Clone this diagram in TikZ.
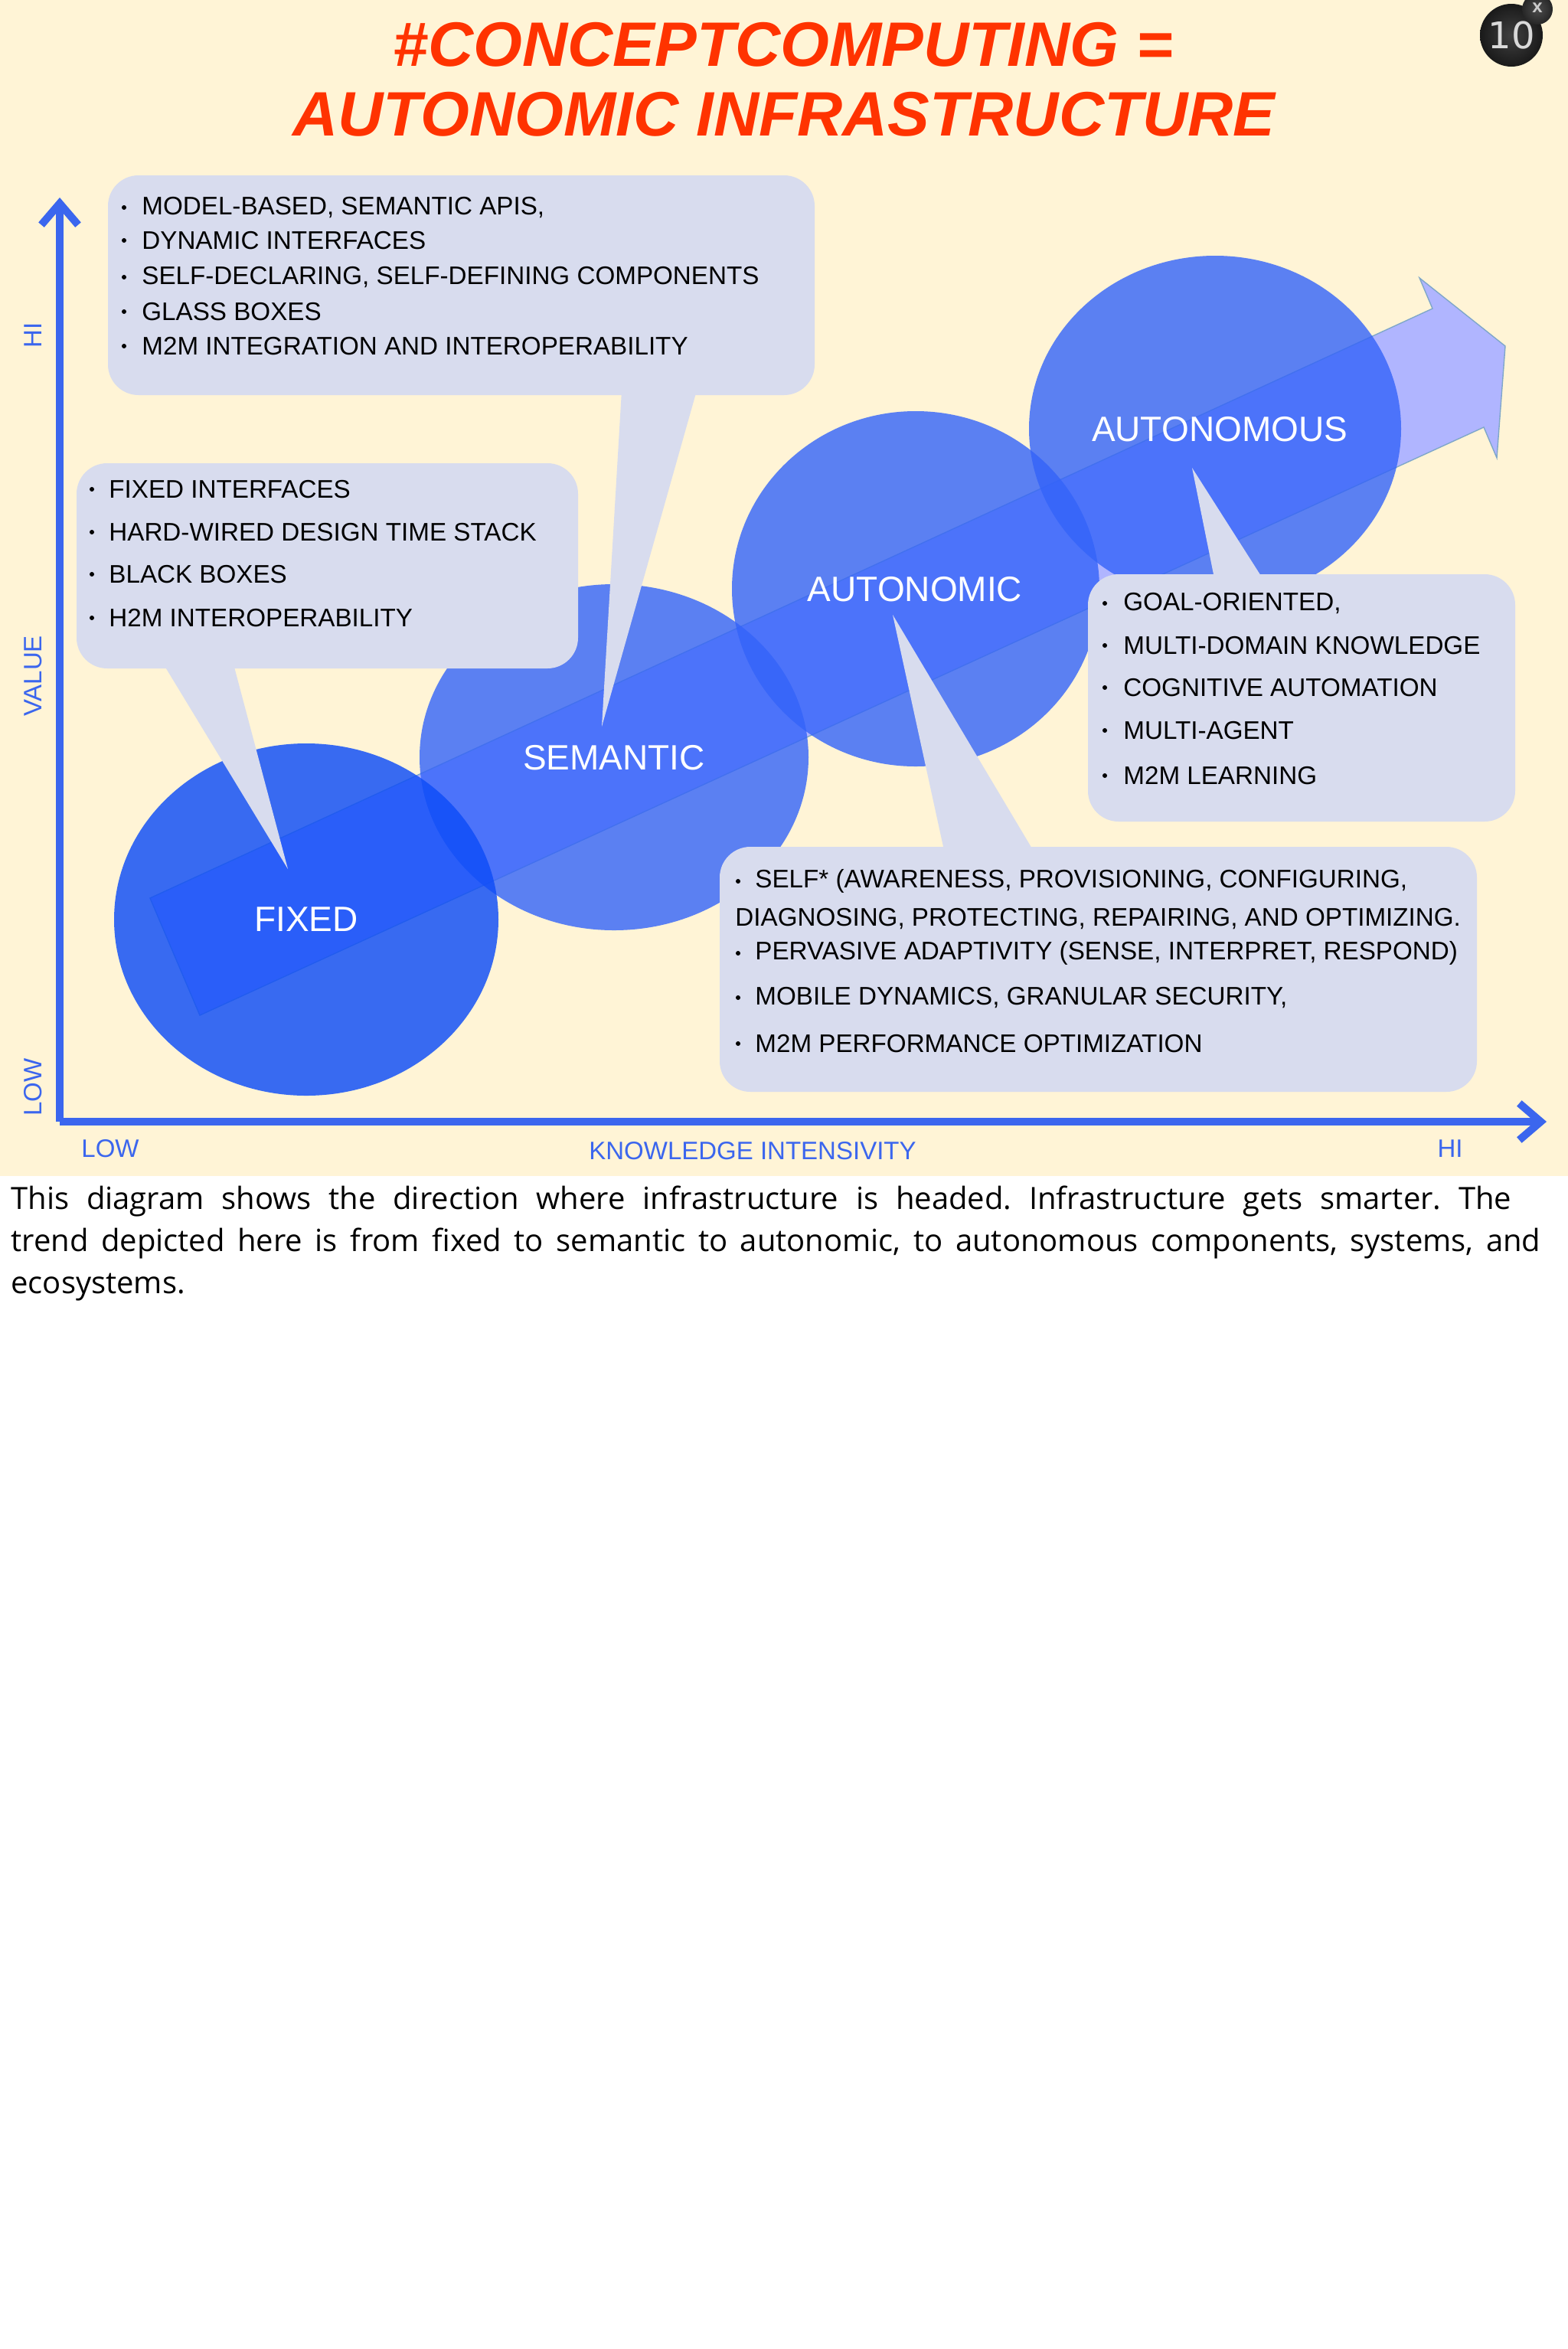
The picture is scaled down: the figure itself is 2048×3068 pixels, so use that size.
\documentclass[tikz,border=0pt]{standalone}
\usepackage{fontspec}
\usepackage{tikz}
\usetikzlibrary{arrows.meta}
\setmainfont{Liberation Sans}
\newfontfamily\badgefont{DejaVu Sans}
\newfontfamily\notefont{Open Sans}
\definecolor{paper}{HTML}{FFF4D6}
\definecolor{axisblue}{HTML}{3B66EE}
\definecolor{blobblue}{HTML}{3363F9}
\definecolor{fixedblue}{HTML}{0D4CF8}
\definecolor{notefill}{HTML}{D8DCEE}
\definecolor{trendfill}{HTML}{B0B5FF}
\definecolor{trendline}{HTML}{7FA7C9}
\definecolor{titlered}{HTML}{FF3300}
\tikzset{
  bloblabel/.style = {text=white, font=\fontsize{23}{23}\selectfont},
  notebox/.style = {fill=notefill, rounded corners=20pt},
  noteline/.style = {anchor=west, inner sep=0pt, font=\fontsize{16.6}{16.6}\selectfont},
  dot/.style = {circle, fill=black, inner sep=0pt, minimum size=3pt},
  axislabel/.style = {text=axisblue, inner sep=0pt, font=\fontsize{16.5}{16.5}\selectfont},
  axisline/.style = {draw=axisblue, line width=5pt, -{Straight Barb[length=14pt,width=24pt,line width=5pt]}},
  titleline/.style = {text=titlered, font=\bfseries\itshape\fontsize{41}{41}\selectfont},
}
\begin{document}
\begin{tikzpicture}[x=0.5pt, y=-0.5pt]
\useasboundingbox (0,0) rectangle (2048,3068);
\fill[white] (0,0) rectangle (2048,3068);
\fill[paper] (0,0) rectangle (2048,1536);
\node[titleline] (title1) at (1023,58) {\#CONCEPTCOMPUTING =};
\node[titleline] (title2) at (1024,149) {AUTONOMIC INFRASTRUCTURE};
% badge
\shade[inner color=black!75, outer color=black!90] (1974,46) circle (41);
\shade[inner color=black!70, outer color=black!85] (2008,12) circle (20);
\node[text=black!15, inner sep=0pt, font=\badgefont\fontsize{24}{24}\selectfont] (badge) at (1974,46) {10};
\node[text=black!20, inner sep=0pt, font=\bfseries\fontsize{12}{12}\selectfont] (badgex) at (2008,10) {x};
% axes
\coordinate (origin) at (78,1465);
\coordinate (yend) at (78,258);
\coordinate (xend) at (2020,1465);
\draw[axisline] (origin) -- (yend);
\draw[axisline] (origin) -- (xend);
\node[axislabel, rotate=90] (yhi) at (43,438) {HI};
\node[axislabel, rotate=90] (yvalue) at (43,883) {VALUE};
\node[axislabel, rotate=90] (ylow) at (43,1420) {LOW};
\node[axislabel] (xlow) at (144,1500) {LOW};
\node[axislabel] (xname) at (983,1503) {KNOWLEDGE INTENSIVITY};
\node[axislabel] (xhi) at (1894,1500) {HI};
% trend arrow
\draw[fill=trendfill, draw=trendline, line width=0.7pt] (196,1173) -- (1871,403) -- (1854,363) -- (1966,452)
  -- (1955,598) -- (1938,558) -- (261,1326) -- cycle;
% stages
\fill[blobblue, fill opacity=0.8] (802,989) ellipse (254 and 226);
\fill[blobblue, fill opacity=0.8] (1196,769) ellipse (240 and 232);
\fill[blobblue, fill opacity=0.8] (1587,560) ellipse (243 and 226);
\fill[fixedblue, fill opacity=0.82] (400,1201) ellipse (251 and 230);
\node[bloblabel] (fixed) at (400,1201) {FIXED};
\node[bloblabel] (semantic) at (802,990) {SEMANTIC};
\node[bloblabel] (autonomic) at (1195,770) {AUTONOMIC};
\node[bloblabel] (autonomous) at (1593,561) {AUTONOMOUS};
% notes
\fill[notefill] (812,510) -- (910,510) -- (786,949) -- cycle;
\fill[notefill] (209,860) -- (303,860) -- (376,1135) -- cycle;
\fill[notefill] (1587,760) -- (1652,760) -- (1557,611) -- cycle;
\fill[notefill] (1234,1115) -- (1352,1115) -- (1166,803) -- cycle;
\fill[notebox] (141,229) rectangle (1064,516);
\fill[notebox] (100,605) rectangle (755,873);
\fill[notebox] (1421,750) rectangle (1979,1073);
\fill[notebox] (940,1106) rectangle (1929,1426);
\foreach \y/\txt [count=\i] in {271/{MODEL-BASED, SEMANTIC APIS,}, 314/{DYNAMIC INTERFACES},
    362/{SELF-DECLARING, SELF-DEFINING COMPONENTS}, 407/{GLASS BOXES}, 452/{M2M INTEGRATION AND INTEROPERABILITY}} {
  \node[dot] (semdot\i) at (162,\y) {};
  \node[noteline] (sem\i) at (185,\y) {\txt};
}
\foreach \y/\txt [count=\i] in {639/{FIXED INTERFACES}, 695/{HARD-WIRED DESIGN TIME STACK},
    750/{BLACK BOXES}, 807/{H2M INTEROPERABILITY}} {
  \node[dot] (fixdot\i) at (120,\y) {};
  \node[noteline] (fix\i) at (142,\y) {\txt};
}
\foreach \y/\txt [count=\i] in {788/{GOAL-ORIENTED,}, 843/{MULTI-DOMAIN KNOWLEDGE},
    898/{COGNITIVE AUTOMATION}, 954/{MULTI-AGENT}, 1013/{M2M LEARNING}} {
  \node[dot] (ausdot\i) at (1443,\y) {};
  \node[noteline] (aus\i) at (1467,\y) {\txt};
}
\foreach \y/\txt [count=\i] in {1151/{SELF* (AWARENESS, PROVISIONING, CONFIGURING,}, 1245/{PERVASIVE ADAPTIVITY (SENSE, INTERPRET, RESPOND)},
    1303/{MOBILE DYNAMICS, GRANULAR SECURITY,}, 1363/{M2M PERFORMANCE OPTIMIZATION}} {
  \node[dot] (autdot\i) at (964,\y) {};
  \node[noteline] (aut\i) at (986,\y) {\txt};
}
\node[noteline] (autwrap) at (960,1200) {DIAGNOSING, PROTECTING, REPAIRING, AND OPTIMIZING.};
% caption
\node[anchor=north west, inner sep=0pt, align=left, font=\notefont\frenchspacing\fontsize{20}{27.5}\selectfont] (caption) at (14,1548)
  {\makebox[980pt][s]{This diagram shows the direction where infrastructure is headed. Infrastructure gets smarter. The}\\
   \makebox[999pt][s]{trend depicted here is from fixed to semantic to autonomic, to autonomous components, systems, and}\\
   ecosystems.};
\end{tikzpicture}
\end{document}
